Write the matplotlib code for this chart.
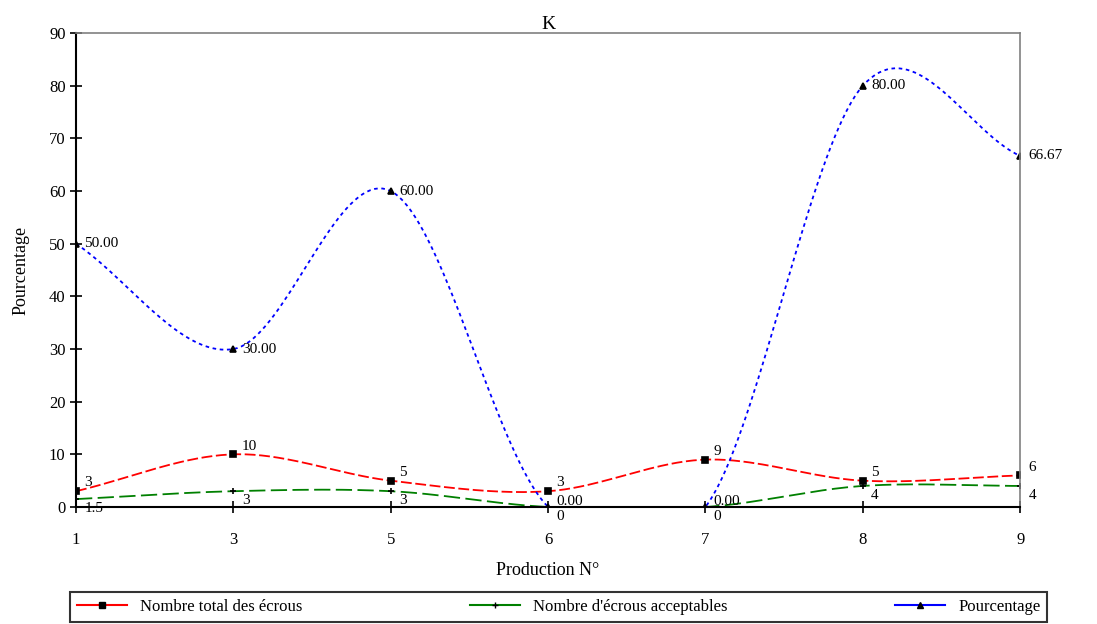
import numpy as np
import matplotlib
matplotlib.use('Agg')
import matplotlib.pyplot as plt
from matplotlib.lines import Line2D

plt.rcParams['font.family'] = ['Liberation Serif', 'DejaVu Serif']

productions = ['1', '3', '5', '6', '7', '8', '9']
total = [3, 10, 5, 3, 9, 5, 6]
acceptables = [1.5, 3, 3, 0, 0, 4, 4]
pourcentage = [50.00, 30.00, 60.00, 0.00, 0.00, 80.00, 66.67]

total_labels = ['3', '10', '5', '3', '9', '5', '6']
acc_labels = ['1.5', '3', '3', '0', '0', '4', '4']
pct_labels = ['50.00', '30.00', '60.00', '0.00', '0.00', '80.00', '66.67']


def smooth(x, y, n=40):
    # catmull-rom, roughly like the excel "smoothed line" option
    x = np.asarray(x, float)
    y = np.asarray(y, float)
    px = np.concatenate([[2 * x[0] - x[1]], x, [2 * x[-1] - x[-2]]])
    py = np.concatenate([[2 * y[0] - y[1]], y, [2 * y[-1] - y[-2]]])
    xs, ys = [], []
    t = np.linspace(0, 1, n)
    for i in range(1, len(px) - 2):
        for p, out in ((px, xs), (py, ys)):
            p0, p1, p2, p3 = p[i - 1], p[i], p[i + 1], p[i + 2]
            out.extend(0.5 * (2 * p1 + (-p0 + p2) * t
                              + (2 * p0 - 5 * p1 + 4 * p2 - p3) * t ** 2
                              + (-p0 + 3 * p1 - 3 * p2 + p3) * t ** 3))
    return np.array(xs), np.array(ys)


fig = plt.figure(figsize=(10.97, 6.24), dpi=100)
ax = fig.add_axes([0.0693, 0.1875, 0.8607, 0.7595])

xi = np.arange(len(productions))
# values, labels, colour, marker, legend name, dash pattern, label lift (pt)
series = [
    (total, total_labels, 'red', 's', 'Nombre total des écrous', (6, 2), 6),
    (acceptables, acc_labels, 'green', '+', "Nombre d'écrous acceptables", (9, 3), -7),
    (pourcentage, pct_labels, 'blue', '^', 'Pourcentage', (2, 2), 4),
]
handles = []
for vals, labs, col, mk, name, dash, lift in series:
    sx, sy = smooth(xi, vals)
    ax.plot(sx, sy, color=col, lw=1.3, linestyle=(0, dash))
    ax.plot(xi, vals, linestyle='none', marker=mk, color='black', ms=4, mew=1.2)
    for x, v, s in zip(xi, vals, labs):
        dy = lift if v < 15 else 0
        ax.annotate(s, (x, v), xytext=(6, dy), textcoords='offset points',
                    va='center', ha='left', fontsize=11, annotation_clip=False)
    handles.append(Line2D([], [], color=col, lw=1.5, marker=mk, mfc='black',
                          mec='black', ms=4))

ax.set_xlim(0, len(productions) - 1)
ax.set_ylim(0, 90)
ax.set_xticks(xi)
ax.set_xticklabels(productions, fontsize=12)
ax.set_yticks(range(0, 91, 10))
ax.tick_params(axis='both', direction='inout', length=8, width=1.2, labelsize=12)
ax.tick_params(axis='x', pad=14)
ax.spines['left'].set_linewidth(1.5)
ax.spines['bottom'].set_linewidth(1.5)
for s in ('top', 'right'):
    ax.spines[s].set_color('gray')
    ax.spines[s].set_linewidth(1.2)

ax.set_title('K', fontsize=14, pad=3)
ax.set_xlabel('Production N°', fontsize=13, labelpad=10)
ax.set_ylabel('Pourcentage', fontsize=13, labelpad=14)

leg = fig.legend(handles, [s[4] for s in series], loc='lower left',
                 bbox_to_anchor=(0.0638, 0.004, 0.891, 0.058), mode='expand',
                 ncol=3, fontsize=12, frameon=True, fancybox=False,
                 borderaxespad=0, handlelength=3)
leg.get_frame().set_edgecolor('black')
leg.get_frame().set_linewidth(1.5)

fig.savefig('out.png', dpi=100)
